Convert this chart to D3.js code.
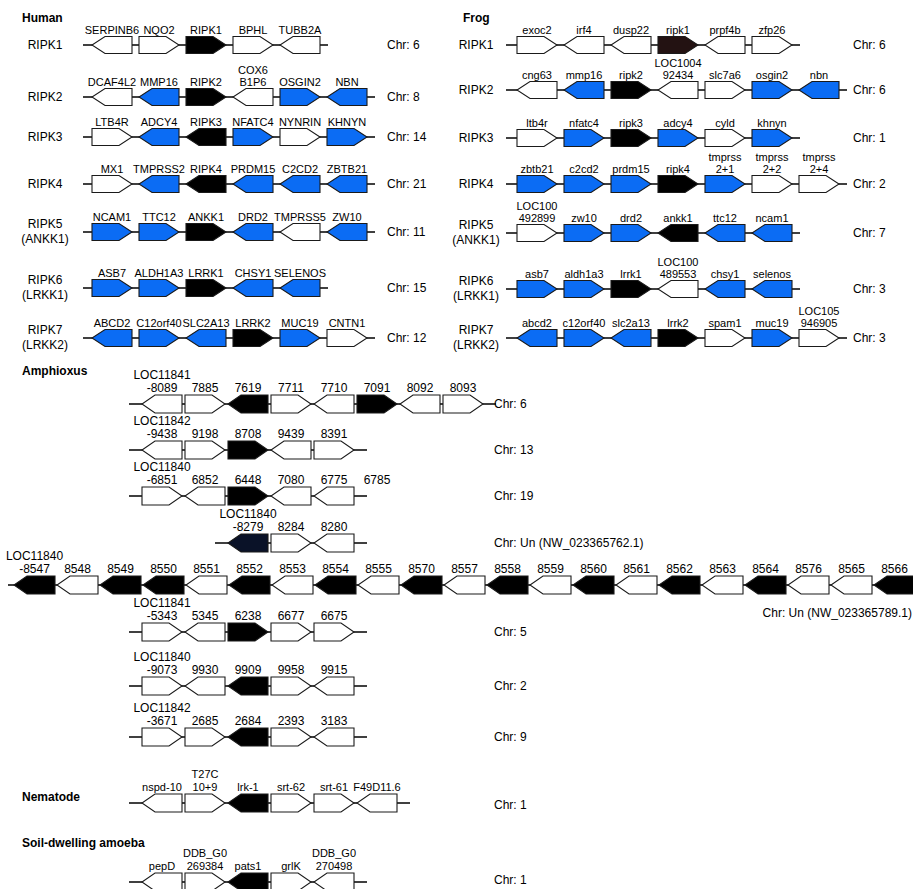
<!DOCTYPE html>
<html>
<head>
<meta charset="utf-8">
<script src="https://cdn.jsdelivr.net/npm/d3@7/dist/d3.min.js"></script>
<style>
  body { margin: 0; background: #fff; }
  svg text { font-family: "Liberation Sans", Arial, sans-serif; font-size: 12px; fill: #000; }
  .title { font-weight: bold; }
  .small-label { font-size: 11px; }
</style>
</head>
<body>
<div id="chart"></div>
<script>
// genes: [label, direction (1 = right, -1 = left), fill code]
// fill codes: w white, b blue, k black, r dark brown, n dark navy, x no box (label only)

const humanRowLabels = [["RIPK1"], ["RIPK2"], ["RIPK3"], ["RIPK4"], ["RIPK5", "(ANKK1)"], ["RIPK6", "(LRKK1)"], ["RIPK7", "(LRKK2)"]];
const humanChr = ["Chr: 6", "Chr: 8", "Chr: 14", "Chr: 21", "Chr: 11", "Chr: 15", "Chr: 12"];
const humanGenes = [
  [["SERPINB6", -1, "w"], ["NQO2", 1, "w"], ["RIPK1", 1, "k"], ["BPHL", 1, "w"], ["TUBB2A", -1, "w"]],
  [["DCAF4L2", -1, "w"], ["MMP16", -1, "b"], ["RIPK2", 1, "k"], ["COX6\nB1P6", -1, "w"], ["OSGIN2", 1, "b"], ["NBN", -1, "b"]],
  [["LTB4R", 1, "w"], ["ADCY4", -1, "b"], ["RIPK3", -1, "k"], ["NFATC4", 1, "b"], ["NYNRIN", 1, "w"], ["KHNYN", 1, "b"]],
  [["MX1", 1, "w"], ["TMPRSS2", -1, "b"], ["RIPK4", -1, "k"], ["PRDM15", -1, "b"], ["C2CD2", -1, "b"], ["ZBTB21", -1, "b"]],
  [["NCAM1", 1, "b"], ["TTC12", 1, "b"], ["ANKK1", 1, "k"], ["DRD2", -1, "b"], ["TMPRSS5", -1, "w"], ["ZW10", -1, "b"]],
  [["ASB7", 1, "b"], ["ALDH1A3", 1, "b"], ["LRRK1", 1, "k"], ["CHSY1", -1, "b"], ["SELENOS", -1, "b"]],
  [["ABCD2", -1, "b"], ["C12orf40", 1, "b"], ["SLC2A13", -1, "b"], ["LRRK2", 1, "k"], ["MUC19", 1, "b"], ["CNTN1", 1, "w"]]
];

const frogRowLabels = humanRowLabels;
const frogChr = ["Chr: 6", "Chr: 6", "Chr: 1", "Chr: 2", "Chr: 7", "Chr: 3", "Chr: 3"];
const frogGenes = [
  [["exoc2", 1, "w"], ["irf4", -1, "w"], ["dusp22", -1, "w"], ["ripk1", 1, "r"], ["prpf4b", -1, "w"], ["zfp26", 1, "w"]],
  [["cng63", -1, "w"], ["mmp16", -1, "b"], ["ripk2", 1, "k"], ["LOC1004\n92434", -1, "w"], ["slc7a6", 1, "w"], ["osgin2", 1, "b"], ["nbn", -1, "b"]],
  [["ltb4r", 1, "w"], ["nfatc4", 1, "b"], ["ripk3", 1, "k"], ["adcy4", 1, "b"], ["cyld", 1, "w"], ["khnyn", 1, "b"]],
  [["zbtb21", 1, "b"], ["c2cd2", 1, "b"], ["prdm15", 1, "b"], ["ripk4", 1, "k"], ["tmprss\n2+1", 1, "b"], ["tmprss\n2+2", 1, "w"], ["tmprss\n2+4", 1, "w"]],
  [["LOC100\n492899", 1, "w"], ["zw10", 1, "b"], ["drd2", 1, "b"], ["ankk1", -1, "k"], ["ttc12", -1, "b"], ["ncam1", -1, "b"]],
  [["asb7", 1, "b"], ["aldh1a3", 1, "b"], ["lrrk1", 1, "k"], ["LOC100\n489553", -1, "w"], ["chsy1", -1, "b"], ["selenos", -1, "b"]],
  [["abcd2", -1, "b"], ["c12orf40", 1, "b"], ["slc2a13", -1, "b"], ["lrrk2", 1, "k"], ["spam1", 1, "w"], ["muc19", 1, "b"], ["LOC105\n946905", 1, "w"]]
];

const amphiChr = ["Chr: 6", "Chr: 13", "Chr: 19", "Chr: Un (NW_023365762.1)", "Chr: Un (NW_023365789.1)", "Chr: 5", "Chr: 2", "Chr: 9"];
const amphiGenes = [
  [["LOC11841\n-8089", -1, "w"], ["7885", 1, "w"], ["7619", -1, "k"], ["7711", 1, "w"], ["7710", -1, "w"], ["7091", 1, "k"], ["8092", -1, "w"], ["8093", 1, "w"]],
  [["LOC11842\n-9438", -1, "w"], ["9198", 1, "w"], ["8708", 1, "k"], ["9439", -1, "w"], ["8391", 1, "w"]],
  [["LOC11840\n-6851", 1, "w"], ["6852", -1, "w"], ["6448", 1, "k"], ["7080", -1, "w"], ["6775", -1, "w"], ["6785", 1, "x"]],
  [["LOC11840\n-8279", -1, "n"], ["8284", 1, "w"], ["8280", -1, "w"]],
  [["LOC11840\n-8547", -1, "k"], ["8548", -1, "w"], ["8549", -1, "k"], ["8550", -1, "k"], ["8551", -1, "w"], ["8552", -1, "k"], ["8553", -1, "w"],
   ["8554", -1, "k"], ["8555", -1, "w"], ["8570", -1, "k"], ["8557", -1, "w"], ["8558", -1, "k"], ["8559", -1, "w"], ["8560", -1, "k"],
   ["8561", -1, "w"], ["8562", -1, "k"], ["8563", -1, "w"], ["8564", -1, "k"], ["8576", -1, "w"], ["8565", -1, "w"], ["8566", -1, "k"]],
  [["LOC11841\n-5343", 1, "w"], ["5345", -1, "w"], ["6238", 1, "k"], ["6677", 1, "w"], ["6675", 1, "w"]],
  [["LOC11840\n-9073", 1, "w"], ["9930", -1, "w"], ["9909", -1, "k"], ["9958", 1, "w"], ["9915", -1, "w"]],
  [["LOC11842\n-3671", 1, "w"], ["2685", 1, "w"], ["2684", -1, "k"], ["2393", 1, "w"], ["3183", -1, "w"]]
];

const nematodeChr = "Chr: 1";
const nematodeGenes = [["nspd-10", -1, "w"], ["T27C\n10+9", 1, "w"], ["lrk-1", -1, "k"], ["srt-62", 1, "w"], ["srt-61", 1, "w"], ["F49D11.6", -1, "w"]];

const amoebaChr = "Chr: 1";
const amoebaGenes = [["pepD", -1, "w"], ["DDB_G0\n269384", 1, "w"], ["pats1", -1, "k"], ["grlK", 1, "w"], ["DDB_G0\n270498", -1, "w"]];

// colours
const fills = { w: "#ffffff", b: "#0b6cf4", k: "#000000", r: "#231212", n: "#0a1228" };

class GeneMap {
  constructor(parentElement) {
    this.parentElement = parentElement;
    this.initVis();
  }

  initVis() {
    let vis = this;
    vis.width = 913;
    vis.height = 889;

    vis.svg = d3.select("#" + vis.parentElement).append("svg")
      .attr("width", vis.width)
      .attr("height", vis.height);

    // human and frog panels share box sizes
    let small = { w: 40, h: 17, tip: 13, lineGap: 12, labelClass: "small-label" };
    vis.drawPanel("Human", 22, 22, humanRowLabels, humanChr, humanGenes,
      Object.assign({ rows: [45, 97, 137, 184, 232, 288, 338], labelX: 45, first: 92, pitch: 47, lead: 9, tail: 8, chrX: 387 }, small));
    vis.drawPanel("Frog", 463, 22, frogRowLabels, frogChr, frogGenes,
      Object.assign({ rows: [45, 90, 138, 184, 233, 289, 338], labelX: 476, first: 517, pitch: 47, lead: 11, tail: 8, chrX: 853 }, small));

    // amphioxus
    vis.title("Amphioxus", 22, 375);
    let amphiRows = [
      { y: 404, start: 0 }, { y: 450, start: 0 }, { y: 496, start: 0 }, { y: 543, start: 2 },
      { y: 585, start: 0, long: true }, { y: 632, start: 0 }, { y: 686, start: 0 }, { y: 737, start: 0 }
    ];
    let amphi = { w: 40, h: 18, tip: 13, lineGap: 13, first: 142, pitch: 43, lead: 13, tail: 13, chrX: 494, labelClass: "" };
    amphiGenes.forEach((genes, i) => {
      let r = amphiRows[i];
      if (r.long) {
        vis.drawRow(genes, Object.assign({}, amphi, { y: r.y, start: 0, first: 14, pitch: 43, w: 41, lead: 6, tail: 0 }));
        vis.svg.append("text").attr("x", 912).attr("y", r.y + 28).attr("dy", "0.35em")
          .attr("text-anchor", "end").text(amphiChr[i]);
      } else {
        vis.drawRow(genes, Object.assign({}, amphi, { y: r.y, start: r.start }));
        vis.svg.append("text").attr("x", amphi.chrX).attr("y", r.y).attr("dy", "0.35em").text(amphiChr[i]);
      }
    });

    // nematode
    vis.title("Nematode", 22, 801);
    vis.drawRow(nematodeGenes, Object.assign({}, amphi, { y: 803, start: 0, labelClass: "small-label" }));
    vis.svg.append("text").attr("x", amphi.chrX).attr("y", 805).attr("dy", "0.35em").text(nematodeChr);

    // amoeba
    vis.title("Soil-dwelling amoeba", 22, 847);
    vis.drawRow(amoebaGenes, Object.assign({}, amphi, { y: 882, start: 0, lineGap: 13, labelClass: "small-label" }));
    vis.svg.append("text").attr("x", amphi.chrX).attr("y", 880).attr("dy", "0.35em").text(amoebaChr);
  }

  title(txt, x, y) {
    this.svg.append("text").attr("class", "title").attr("x", x).attr("y", y).text(txt);
  }

  drawPanel(name, tx, ty, rowLabels, chr, genes, o) {
    let vis = this;
    vis.title(name, tx, ty);

    genes.forEach((row, i) => {
      let y = o.rows[i];
      vis.drawRow(row, Object.assign({}, o, { y: y, start: 0 }));

      // row label, one or two lines
      let lines = rowLabels[i];
      lines.forEach((t, j) => {
        let yy = lines.length === 1 ? y : y - 8 + j * 15;
        vis.svg.append("text").attr("text-anchor", "middle")
          .attr("x", o.labelX).attr("y", yy).attr("dy", "0.35em").text(t);
      });

      vis.svg.append("text").attr("x", o.chrX).attr("y", y).attr("dy", "0.35em").text(chr[i]);
    });
  }

  drawRow(genes, o) {
    let vis = this;
    let x = d3.scaleLinear().domain([0, 1]).range([o.first, o.first + o.pitch]);
    let g = vis.svg.append("g").attr("class", "gene-row");

    let boxed = genes.map((d, i) => ({ d: d, slot: i + o.start })).filter(e => e.d[2] !== "x");
    let firstSlot = d3.min(boxed, e => e.slot);
    let lastSlot = d3.max(boxed, e => e.slot);

    // backbone
    g.append("line")
      .attr("x1", x(firstSlot) - o.lead)
      .attr("x2", x(lastSlot) + o.w + o.tail)
      .attr("y1", o.y).attr("y2", o.y)
      .attr("stroke", "#000")
      .attr("stroke-width", 1.6);

    g.selectAll("path").data(boxed).enter()
      .append("path")
      .attr("d", e => arrow(x(e.slot), o.y, o.w, o.h, e.d[1], o.tip))
      .attr("fill", e => fills[e.d[2]])
      .attr("stroke", "#1a1a1a")
      .attr("stroke-width", 1.1);

    // gene labels above boxes, one text per line
    genes.forEach((d, i) => {
      let cx = x(i + o.start) + o.w / 2;
      let lines = d[0].split("\n");
      let base = o.y - o.h / 2 - 3;
      lines.forEach((s, j) => {
        g.append("text")
          .attr("class", o.labelClass)
          .attr("text-anchor", "middle")
          .attr("x", cx)
          .attr("y", base - (lines.length - 1 - j) * o.lineGap)
          .text(s);
      });
    });
  }
}

function arrow(x0, y, w, h, dir, t) {
  let top = y - h / 2, bot = y + h / 2, x1 = x0 + w;
  if (dir > 0) return `M${x0},${top}H${x1 - t}L${x1},${y}L${x1 - t},${bot}H${x0}Z`;
  return `M${x1},${top}H${x0 + t}L${x0},${y}L${x0 + t},${bot}H${x1}Z`;
}

new GeneMap("chart");
</script>
</body>
</html>
